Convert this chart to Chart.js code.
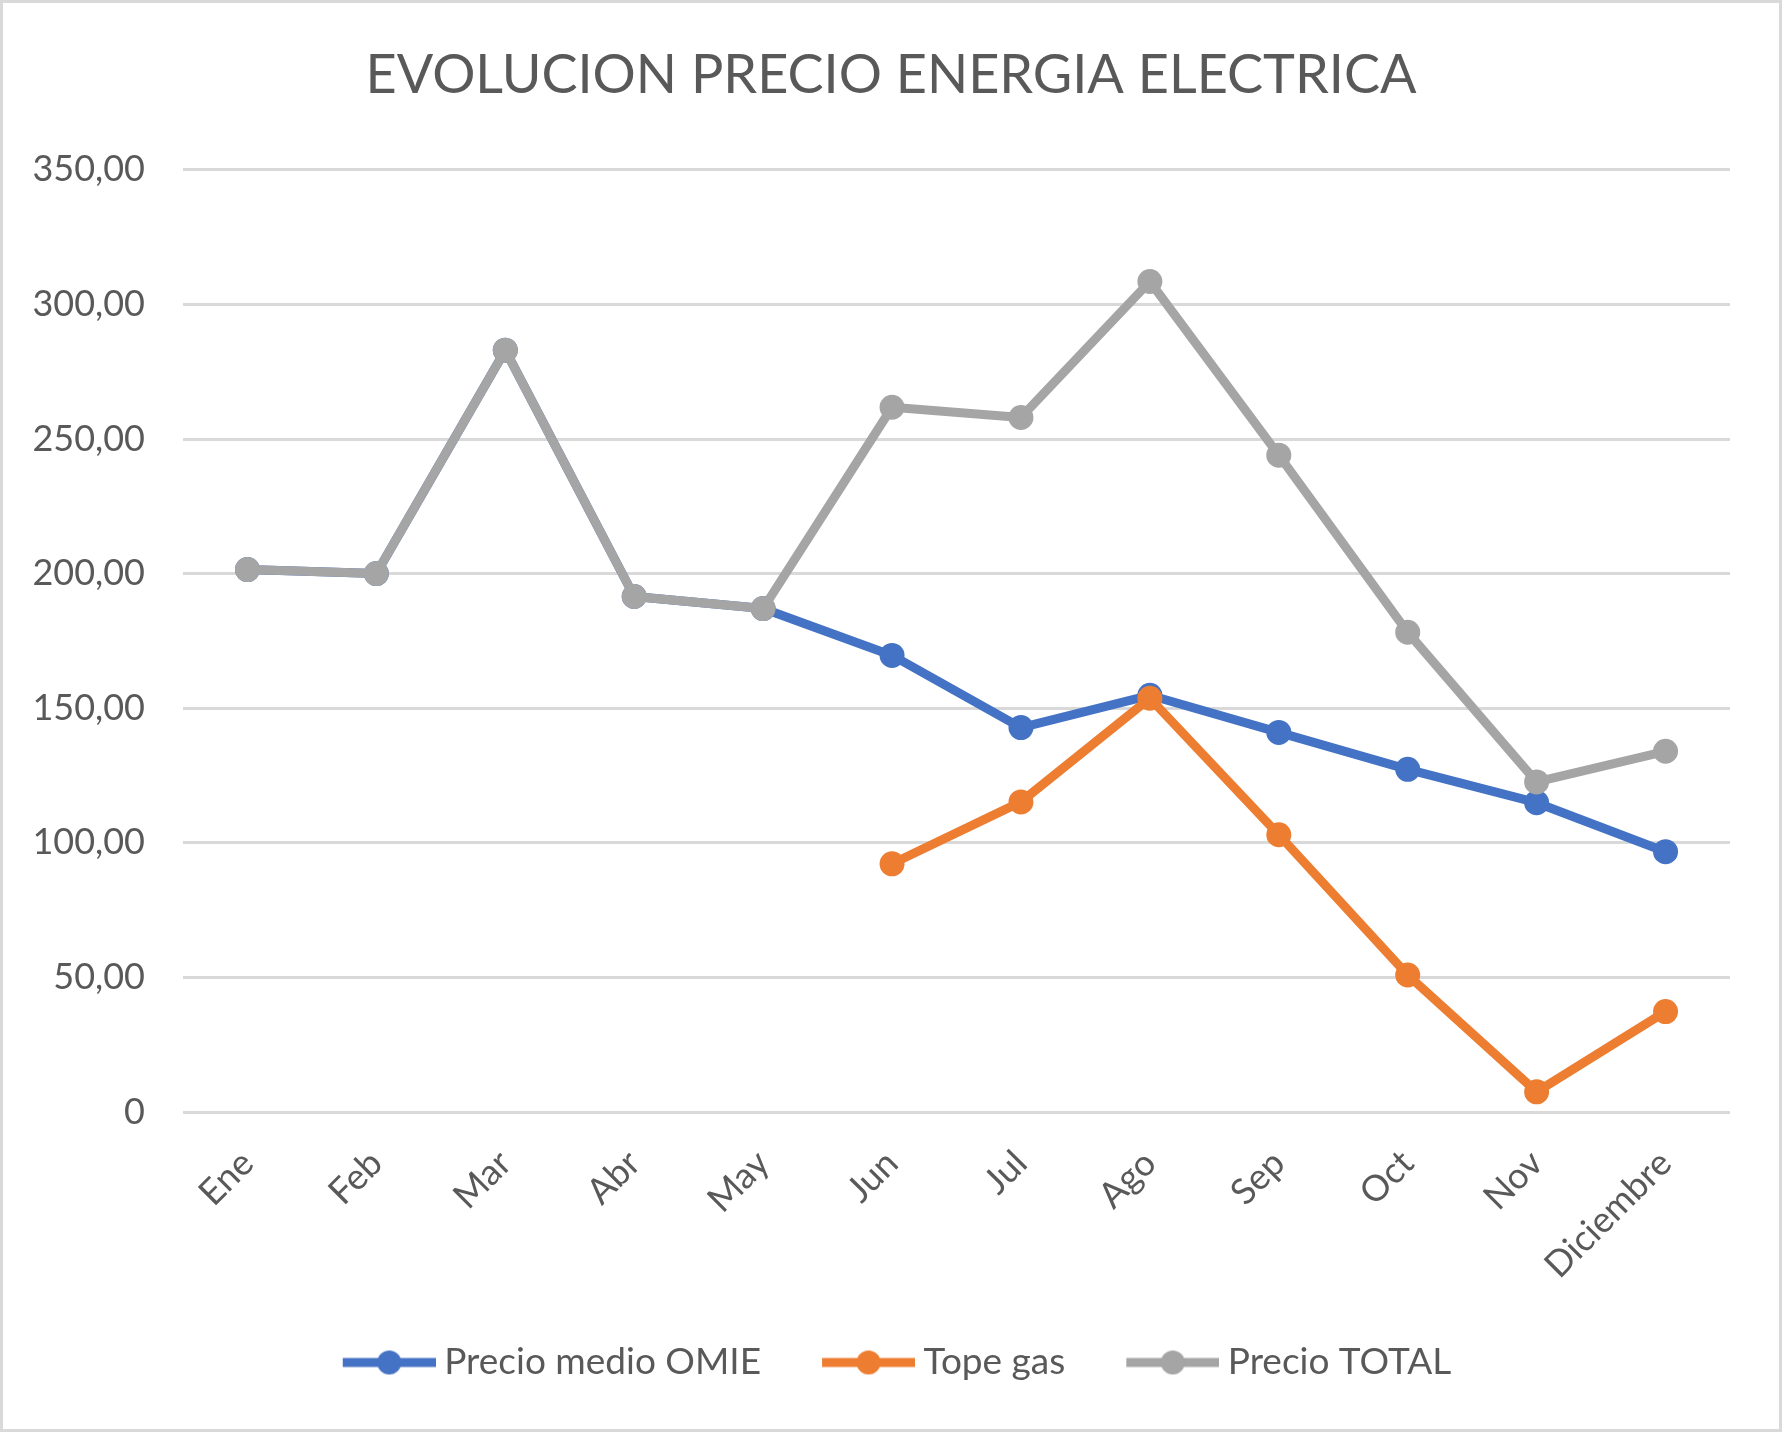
<!DOCTYPE html>
<html>
<head>
<meta charset="utf-8">
<script src="https://cdn.jsdelivr.net/npm/chart.js@4.4.0/dist/chart.umd.min.js"></script>
<style>
  html, body { margin: 0; padding: 0; background: #fff; }
  #marco { width: 1782px; height: 1432px; box-sizing: border-box; border: 3px solid #d9d9d9; background: #fff; }
</style>
</head>
<body>
<div id="marco"><canvas id="grafico"></canvas></div>
<script>
// Datos
const meses = ['Ene', 'Feb', 'Mar', 'Abr', 'May', 'Jun', 'Jul', 'Ago', 'Sep', 'Oct', 'Nov', 'Diciembre']
const precioOmie = [201.5, 200.0, 283.0, 191.5, 187.0, 169.6, 142.8, 154.8, 141.0, 127.3, 114.9, 96.7]
const topeGas = [null, null, null, null, null, 92.2, 115.2, 153.7, 103.0, 50.9, 7.5, 37.3]
const precioTotal = [201.5, 200.0, 283.0, 191.5, 187.0, 261.8, 258.0, 308.5, 244.0, 178.2, 122.6, 134.0]

// Colores de Excel
const azul = '#4472C4'
const naranja = '#ED7D31'
const gris = '#A5A5A5'
const texto = '#595959'

Chart.defaults.font.family = 'Lato'
Chart.defaults.color = texto

// Icono de leyenda: línea con punto en medio (como en Excel)
const anchoCaja = 95
const largoLinea = 93
const desplaz = 10
function iconoLeyenda(color) {
    // posiciones respecto al centro de la caja de la leyenda
    const izq = (anchoCaja + desplaz - largoLinea) - anchoCaja / 2
    const der = anchoCaja / 2 + desplaz
    const medio = Math.max(Math.abs(izq), der)
    const c = document.createElement('canvas')
    c.width = medio * 2
    c.height = 30
    const ctx = c.getContext('2d')
    const x0 = medio + izq
    const x1 = medio + der
    ctx.strokeStyle = color
    ctx.lineWidth = 9
    ctx.beginPath()
    ctx.moveTo(x0, 15)
    ctx.lineTo(x1, 15)
    ctx.stroke()
    ctx.fillStyle = color
    ctx.beginPath()
    ctx.arc((x0 + x1) / 2, 15, 12, 0, Math.PI * 2)
    ctx.fill()
    return c
}

function serie(label, data, color) {
    return {
        label,
        data,
        borderColor: color,
        backgroundColor: color,
        borderWidth: 9,
        borderJoinStyle: 'round',
        pointRadius: 10.5,
        pointBorderWidth: 4,
        pointBackgroundColor: color,
        pointBorderColor: color,
        tension: 0
    }
}

// En Chart.js el primer dataset queda encima, así que van al revés y la leyenda se invierte
const datasets = [
    serie('Precio TOTAL', precioTotal, gris),
    serie('Tope gas', topeGas, naranja),
    serie('Precio medio OMIE', precioOmie, azul)
]
const iconos = { 'Precio TOTAL': iconoLeyenda(gris), 'Tope gas': iconoLeyenda(naranja), 'Precio medio OMIE': iconoLeyenda(azul) }

new Chart('grafico', {
    type: 'line',
    data: { labels: meses, datasets },
    options: {
        responsive: true,
        maintainAspectRatio: false,
        animation: false,
        layout: { padding: { left: 0, right: 0, top: 0, bottom: 38 } },
        plugins: {
            title: {
                display: true,
                text: 'EVOLUCION PRECIO ENERGIA ELECTRICA',
                color: texto,
                font: { size: 54, weight: 'normal' },
                padding: { top: 40, bottom: 62 }
            },
            legend: {
                position: 'bottom',
                reverse: true,
                labels: {
                    usePointStyle: true,
                    pointStyleWidth: anchoCaja,
                    padding: 49,
                    color: texto,
                    font: { size: 37 },
                    generateLabels(chart) {
                        const items = Chart.defaults.plugins.legend.labels.generateLabels(chart)
                        items.forEach(it => { it.pointStyle = iconos[it.text] })
                        return items
                    }
                }
            },
            tooltip: { enabled: false }
        },
        scales: {
            x: {
                offset: true,
                grid: { display: false },
                border: { display: false },
                ticks: { color: texto, font: { size: 36 }, minRotation: 45, maxRotation: 45, padding: 22 },
                afterFit(scale) { scale.height = 183 }
            },
            y: {
                min: 0,
                max: 350,
                grid: { color: '#d9d9d9', lineWidth: 3, drawTicks: false },
                border: { display: false },
                ticks: {
                    stepSize: 50,
                    color: texto,
                    font: { size: 36 },
                    padding: 38,
                    callback: v => v === 0 ? '0' : v.toFixed(2).replace('.', ',')
                },
                afterFit(scale) { scale.width = 180 }
            },
            // eje vacío a la derecha solo para reservar el margen del área de trazado
            margenDcho: {
                position: 'right',
                grid: { display: false },
                border: { display: false },
                ticks: { display: false },
                afterFit(scale) { scale.width = 49 }
            }
        }
    }
})
</script>
</body>
</html>
